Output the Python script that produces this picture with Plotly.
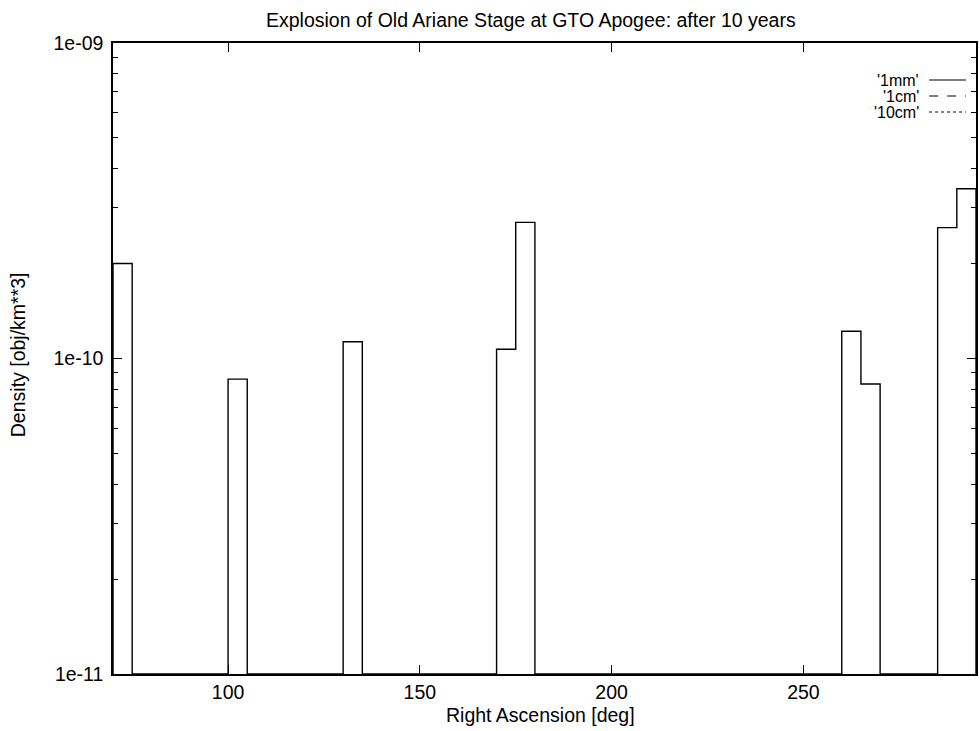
import plotly.graph_objects as go

# ---- data ----
bin_start = [70, 100, 130, 170, 175, 260, 265, 285, 290]   # deg
bin_width = 5                                              # deg
density_1mm = [2.0e-10, 8.6e-11, 1.13e-10, 1.07e-10, 2.7e-10,
               1.22e-10, 8.3e-11, 2.6e-10, 3.45e-10]       # obj/km**3
legend_names = ["'1mm'", "'1cm'", "'10cm'"]
legend_dash = ["solid", "dash", "dot"]
x_tick_vals = [100, 150, 200, 250]
y_tick_vals = [1e-11, 1e-10, 1e-09]
y_tick_text = ["1e-11", "1e-10", "1e-09"]

X_RANGE = [70, 295]
Y_LOG_RANGE = [-11, -9]
floor = 10 ** Y_LOG_RANGE[0]

# build step path (gnuplot "with steps" style)
xs, ys = [X_RANGE[0]], [floor]
prev_end = X_RANGE[0]
for s, v in zip(bin_start, density_1mm):
    if s > prev_end:
        xs.append(prev_end); ys.append(floor)
    xs.append(s); ys.append(v)
    prev_end = s + bin_width
xs.append(prev_end); ys.append(floor)
if prev_end < X_RANGE[1]:
    xs.append(X_RANGE[1]); ys.append(floor)

FONT = "Liberation Sans, Arial, Helvetica, sans-serif"
FS = 19.5
W, H = 980, 731
L, R, T, B = 113, 2, 43, 57
pw, ph = W - L - R, H - T - B

def px_x(p):
    return (p - L) / pw

def px_y(p):
    return (H - B - p) / ph

fig = go.Figure()
fig.add_trace(go.Scatter(x=xs, y=ys, mode="lines", line_shape="hv",
                         line=dict(color="black", width=1.4),
                         name=legend_names[0], showlegend=False))

minor_vals = [m * 10 ** e for e in range(-11, -9) for m in range(2, 10)]

fig.update_layout(
    width=W, height=H,
    margin=dict(l=L, r=R, t=T, b=B),
    paper_bgcolor="white", plot_bgcolor="white",
    font=dict(family=FONT, size=FS, color="black"),
    showlegend=False,
    xaxis=dict(range=X_RANGE, tickmode="array", tickvals=x_tick_vals,
               ticks="inside", ticklen=9, tickwidth=1.2, tickcolor="black",
               showline=True, linecolor="black", linewidth=1.5, mirror="ticks",
               showgrid=False, zeroline=False,
               tickfont=dict(size=FS), ticklabelstandoff=0),
    yaxis=dict(type="log", range=Y_LOG_RANGE, tickmode="array",
               tickvals=y_tick_vals, ticktext=y_tick_text,
               ticks="inside", ticklen=9, tickwidth=1.2, tickcolor="black",
               minor=dict(tickmode="array", tickvals=minor_vals, ticks="inside",
                          ticklen=5, tickwidth=1, tickcolor="black", showgrid=False),
               showline=True, linecolor="black", linewidth=1.5, mirror="ticks",
               showgrid=False, zeroline=False,
               tickfont=dict(size=FS), ticklabelstandoff=4),
)

annotations = [
    dict(text="Explosion of Old Ariane Stage at GTO Apogee: after 10 years",
         xref="paper", yref="paper", x=px_x(532), y=px_y(20),
         xanchor="center", yanchor="middle", showarrow=False,
         font=dict(size=FS)),
    dict(text="Right Ascension [deg]", xref="paper", yref="paper",
         x=px_x(541), y=px_y(715), xanchor="center", yanchor="middle",
         showarrow=False, font=dict(size=FS)),
    dict(text="Density [obj/km**3]", xref="paper", yref="paper",
         x=px_x(18), y=px_y(355), xanchor="center", yanchor="middle",
         textangle=-90, showarrow=False, font=dict(size=FS)),
]
shapes = []
legend_rows = [80, 96, 112]
for name, dash, row in zip(legend_names, legend_dash, legend_rows):
    annotations.append(dict(text=name, xref="paper", yref="paper",
                            x=px_x(922), y=px_y(row), xanchor="right",
                            yanchor="middle", showarrow=False,
                            height=15, valign="middle", borderpad=0,
                            font=dict(size=16)))
    shapes.append(dict(type="line", xref="paper", yref="paper",
                       x0=px_x(931), x1=px_x(968), y0=px_y(row), y1=px_y(row),
                       line=dict(color="black", width=1.2, dash=dash)))
fig.update_layout(annotations=annotations, shapes=shapes)

fig.write_html("out.html")
